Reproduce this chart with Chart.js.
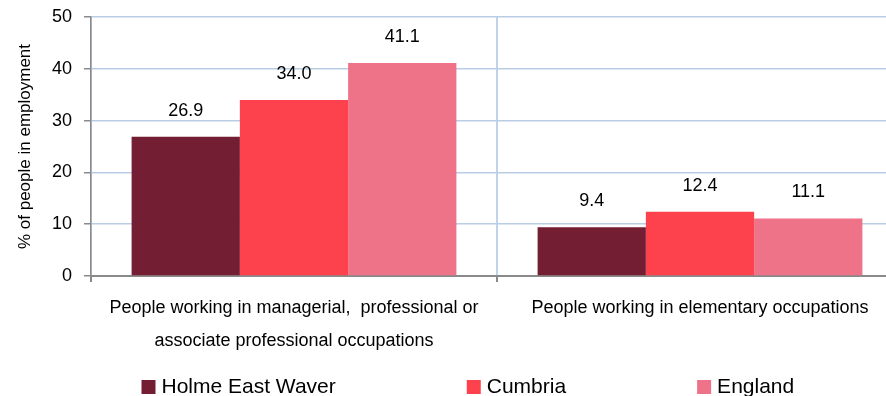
<!DOCTYPE html>
<html>
<head>
<meta charset="utf-8">
<script src="https://cdn.jsdelivr.net/npm/chart.js@4/dist/chart.umd.min.js"></script>
<style>
  html, body { margin: 0; padding: 0; background: #fff; overflow: hidden; }
  #wrap { width: 886px; height: 396px; overflow: hidden; }
</style>
</head>
<body>
<div id="wrap"><canvas id="occChart" width="910" height="396"></canvas></div>
<script>
// Occupation groups, share of people in employment (%)
const categories = [
    ['People working in managerial,  professional or', 'associate professional occupations'],
    'People working in elementary occupations'
];
const seriesNames = ['Holme East Waver', 'Cumbria', 'England'];
const holmeEastWaver = [26.9, 9.4];
const cumbria = [34.0, 12.4];
const england = [41.1, 11.1];
const yMin = 0, yMax = 50, yStep = 10;

const colours = ['#741e34', '#fe424d', '#ee7288'];
const font = 'Liberation Sans, Arial, sans-serif';

// value printed above each bar
const barValues = {
    id: 'barValues',
    afterDatasetsDraw(chart) {
        const ctx = chart.ctx;
        ctx.save();
        ctx.font = '18px ' + font;
        ctx.fillStyle = '#000';
        ctx.textAlign = 'center';
        ctx.textBaseline = 'middle';
        chart.data.datasets.forEach((ds, i) => {
            chart.getDatasetMeta(i).data.forEach((bar, j) => {
                ctx.fillText(ds.data[j].toFixed(1), bar.x, bar.y - 26);
            });
        });
        ctx.restore();
    }
};

// legend row under the axis labels
const legendRow = {
    id: 'legendRow',
    afterDraw(chart, args, opts) {
        const ctx = chart.ctx;
        ctx.save();
        ctx.font = '21px ' + font;
        ctx.textBaseline = 'middle';
        let x = opts.x;
        chart.data.datasets.forEach(ds => {
            ctx.fillStyle = ds.backgroundColor;
            ctx.fillRect(x, opts.y - 7, 14, 14);
            ctx.fillStyle = '#000';
            ctx.fillText(ds.label, x + 20, opts.y);
            x += 20 + ctx.measureText(ds.label).width + opts.gap;
        });
        ctx.restore();
    }
};

const ctx = document.getElementById('occChart').getContext('2d');
new Chart(ctx, {
    type: 'bar',
    data: {
        labels: categories,
        datasets: [
            { label: seriesNames[0], data: holmeEastWaver, backgroundColor: colours[0] },
            { label: seriesNames[1], data: cumbria, backgroundColor: colours[1] },
            { label: seriesNames[2], data: england, backgroundColor: colours[2] }
        ]
    },
    options: {
        responsive: false,
        animation: false,
        categoryPercentage: 0.8,
        barPercentage: 1.0,
        layout: { padding: { top: 17, right: 7, bottom: 0, left: 0 } },
        plugins: {
            legend: { display: false },
            tooltip: { enabled: false },
            legendRow: { x: 141.5, y: 387, gap: 131 }
        },
        scales: {
            x: {
                afterFit(scale) {
                    scale.height = 120;
                    scale.paddingLeft = 0;
                    scale.paddingRight = 0;
                },
                grid: {
                    color: '#c0d3ea',
                    lineWidth: 2,
                    tickColor: '#8a8a8a',
                    tickLength: 6
                },
                border: { color: '#8a8a8a', width: 2 },
                ticks: {
                    color: '#000',
                    font: { family: font, size: 18, lineHeight: 1.8 },
                    padding: 10,
                    maxRotation: 0,
                    autoSkip: false
                }
            },
            y: {
                min: yMin,
                max: yMax,
                afterFit(scale) {
                    scale.width = 91;
                    scale.paddingTop = 0;
                    scale.paddingBottom = 0;
                },
                grid: {
                    color: '#b9cde5',
                    lineWidth: 1.5,
                    tickColor: '#8a8a8a',
                    tickLength: 7
                },
                border: { color: '#8a8a8a', width: 1.5 },
                ticks: {
                    stepSize: yStep,
                    color: '#000',
                    font: { family: font, size: 18 },
                    padding: 12
                },
                title: {
                    display: true,
                    text: '% of people in employment',
                    color: '#000',
                    font: { family: font, size: 17 },
                    padding: { top: 15, bottom: 0 }
                }
            }
        }
    },
    plugins: [barValues, legendRow]
});
</script>
</body>
</html>
